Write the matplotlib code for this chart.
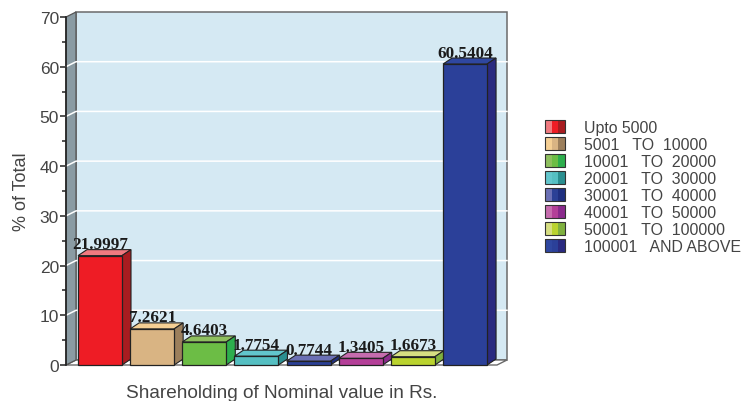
import matplotlib
matplotlib.use("Agg")
import matplotlib.pyplot as plt
from matplotlib.patches import Polygon, Rectangle

categories = ["Upto 5000", "5001   TO  10000", "10001   TO  20000", "20001   TO  30000",
              "30001   TO  40000", "40001   TO  50000", "50001   TO  100000", "100001   AND ABOVE"]
values = [21.9997, 7.2621, 4.6403, 1.7754, 0.7744, 1.3405, 1.6673, 60.5404]
value_labels = ["21.9997", "7.2621", "4.6403", "1.7754", "0.7744", "1.3405", "1.6673", "60.5404"]
front_colors = ["#EE1C25", "#D9B483", "#6CBD45", "#55BFC2", "#2B4096", "#B43F98", "#BAD32F", "#2B4099"]
top_colors = ["#F07A80", "#F5CF94", "#8EBF5E", "#62C6CC", "#6B70B5", "#C66CAE", "#D6DE82", "#2F47A0"]
side_colors = ["#A81C20", "#9C7F5C", "#2DAE4D", "#2A8F90", "#1F2F80", "#8A2A8C", "#7FB03F", "#2A2A80"]

W, H = 744, 402
fig = plt.figure(figsize=(W / 100, H / 100), dpi=100, facecolor="white")
plt.rcParams["font.family"] = ["Liberation Sans", "DejaVu Sans"]

x0, x1, y0, y1 = 66, 497, 366, 18
ax = fig.add_axes([x0 / W, 1 - y0 / H, (x1 - x0) / W, (y0 - y1) / H])
unit = 52.15
xmin, xmax = (x0 - 100) / unit, (x1 - 100) / unit
ymin, ymax = 0, 70
ax.set_xlim(xmin, xmax)
ax.set_ylim(ymin, ymax)
for s in ax.spines.values():
    s.set_visible(False)
ax.patch.set_visible(False)

wall_dx, wall_dy = 10 / unit, 5 * 70 / 348
bar_dx, bar_dy = 9 / unit, 6 * 70 / 348
bar_w = 44 / unit
edge = "#222222"

# back wall, floor, left wall
ax.add_patch(Polygon([(xmin + wall_dx, wall_dy), (xmax + wall_dx, wall_dy),
                      (xmax + wall_dx, ymax + wall_dy), (xmin + wall_dx, ymax + wall_dy)],
                     fc="#D5E9F3", ec="#6A6A6A", lw=1.1, clip_on=False, zorder=1))
ax.add_patch(Polygon([(xmin, 0), (xmax, 0), (xmax + wall_dx, wall_dy), (xmin + wall_dx, wall_dy)],
                     fc="white", ec="#6A6A6A", lw=1.0, clip_on=False, zorder=1))
ax.add_patch(Polygon([(xmin, 0), (xmin + wall_dx, wall_dy), (xmin + wall_dx, ymax + wall_dy), (xmin, ymax)],
                     fc="#8A9BA3", ec="#555555", lw=0.9, clip_on=False, zorder=1))
for g in range(10, 70, 10):
    ax.plot([xmin, xmin + wall_dx, xmax + wall_dx], [g, g + wall_dy, g + wall_dy],
            color="white", lw=1.1, clip_on=False, zorder=2)

# bars
for i, v in enumerate(values):
    l, r = i - bar_w / 2, i + bar_w / 2
    ax.add_patch(Polygon([(l, v), (r, v), (r + bar_dx, v + bar_dy), (l + bar_dx, v + bar_dy)],
                         fc=top_colors[i], ec=edge, lw=0.8, clip_on=False, zorder=3))
    ax.add_patch(Polygon([(r, 0), (r + bar_dx, bar_dy), (r + bar_dx, v + bar_dy), (r, v)],
                         fc=side_colors[i], ec=edge, lw=0.8, clip_on=False, zorder=3))
    ax.add_patch(Rectangle((l, 0), bar_w, v, fc=front_colors[i], ec=edge, lw=0.9, clip_on=False, zorder=4))
    ax.text(i, v + bar_dy - 0.5, value_labels[i], ha="center", va="bottom",
            family="Liberation Serif", weight="bold", fontsize=12.3, color="#1A1A1A", zorder=6)

# axis
ax.spines["left"].set_visible(True)
ax.spines["left"].set_color("#222222")
ax.spines["left"].set_linewidth(1.2)
ax.spines["left"].set_zorder(5)
ax.set_xticks([])
ax.set_yticks(range(0, 71, 10))
ax.set_yticks(range(5, 70, 10), minor=True)
ax.tick_params(axis="y", which="major", direction="out", length=4, width=1.1, color="#222222",
               labelsize=12.5, labelcolor="#444444", pad=1)
ax.tick_params(axis="y", which="minor", direction="out", length=3, width=1.1, color="#222222")
fig.text(22 / W, 1 - 192 / H, "% of Total", rotation=90, ha="center", va="center",
         fontsize=13, color="#444444")
fig.text(282 / W, 1 - 394 / H, "Shareholding of Nominal value in Rs.", ha="center", va="center",
         fontsize=13.7, color="#444444")

# legend
lg = fig.add_axes([0, 0, 1, 1])
lg.set_xlim(0, W)
lg.set_ylim(H, 0)
lg.axis("off")
for i, c in enumerate(categories):
    y = 127 + 17.1 * i
    for k, col in enumerate([top_colors[i], front_colors[i], side_colors[i]]):
        lg.add_patch(Rectangle((545 + k * 20 / 3, y - 6.5), 20 / 3, 13, fc=col, ec="none"))
    lg.add_patch(Rectangle((545, y - 6.5), 20, 13, fc="none", ec="#333333", lw=0.8))
    lg.text(584, y + 1, c, va="center", ha="left", fontsize=11.45, color="#444444")

fig.savefig("out.png", dpi=100, facecolor="white")
